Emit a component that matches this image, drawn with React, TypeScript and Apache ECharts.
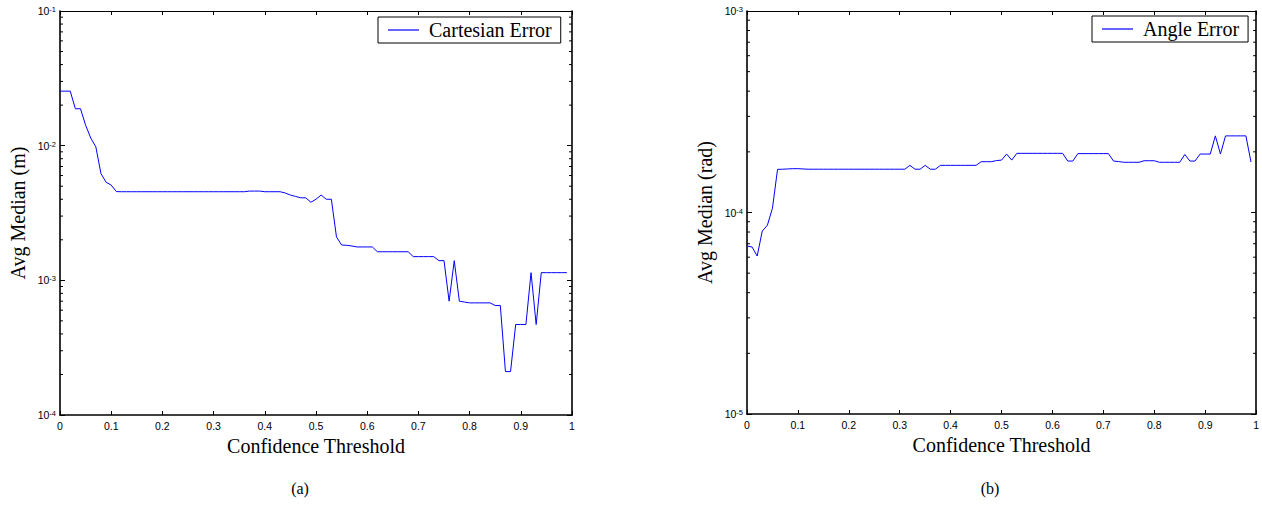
import React, { useEffect, useRef } from "react";
import * as echarts from "echarts";

const thresholds = [
  0, 0.01, 0.02, 0.03, 0.04, 0.05, 0.06, 0.07, 0.08, 0.09,
  0.1, 0.11, 0.12, 0.13, 0.14, 0.15, 0.16, 0.17, 0.18, 0.19,
  0.2, 0.21, 0.22, 0.23, 0.24, 0.25, 0.26, 0.27, 0.28, 0.29,
  0.3, 0.31, 0.32, 0.33, 0.34, 0.35, 0.36, 0.37, 0.38, 0.39,
  0.4, 0.41, 0.42, 0.43, 0.44, 0.45, 0.46, 0.47, 0.48, 0.49,
  0.5, 0.51, 0.52, 0.53, 0.54, 0.55, 0.56, 0.57, 0.58, 0.59,
  0.6, 0.61, 0.62, 0.63, 0.64, 0.65, 0.66, 0.67, 0.68, 0.69,
  0.7, 0.71, 0.72, 0.73, 0.74, 0.75, 0.76, 0.77, 0.78, 0.79,
  0.8, 0.81, 0.82, 0.83, 0.84, 0.85, 0.86, 0.87, 0.88, 0.89,
  0.9, 0.91, 0.92, 0.93, 0.94, 0.95, 0.96, 0.97, 0.98, 0.99,
];

const cartesianError = [
  0.0254, 0.0254, 0.0254, 0.0188, 0.0188, 0.0142, 0.0114, 0.0098, 0.0062, 0.00535,
  0.0051, 0.00456, 0.00455, 0.00455, 0.00455, 0.00455, 0.00455, 0.00455, 0.00455, 0.00455,
  0.00455, 0.00455, 0.00455, 0.00455, 0.00455, 0.00455, 0.00455, 0.00455, 0.00455, 0.00455,
  0.00455, 0.00455, 0.00455, 0.00455, 0.00455, 0.00455, 0.00455, 0.0046, 0.0046, 0.0046,
  0.00455, 0.00455, 0.00455, 0.00455, 0.00445, 0.0043, 0.0042, 0.0041, 0.0041, 0.0038,
  0.004, 0.0043, 0.004, 0.004, 0.0021, 0.00183, 0.00182, 0.0018, 0.00177, 0.00177,
  0.00177, 0.00177, 0.00163, 0.00163, 0.00163, 0.00163, 0.00163, 0.00163, 0.00163, 0.0015,
  0.0015, 0.0015, 0.0015, 0.0015, 0.0014, 0.0014, 0.0007, 0.0014, 0.0007, 0.00069,
  0.00068, 0.00068, 0.00068, 0.00068, 0.00068, 0.00065, 0.00065, 0.00021, 0.00021, 0.00047,
  0.00047, 0.00047, 0.00114, 0.00047, 0.00114, 0.00114, 0.00114, 0.00114, 0.00114, 0.00114,
];

const angleError = [
  6.82e-5, 6.74e-5, 6.08e-5, 8.09e-5, 8.64e-5, 1.05e-4, 1.637e-4, 1.64e-4, 1.645e-4, 1.65e-4,
  1.65e-4, 1.645e-4, 1.64e-4, 1.64e-4, 1.64e-4, 1.64e-4, 1.64e-4, 1.64e-4, 1.64e-4, 1.64e-4,
  1.64e-4, 1.64e-4, 1.64e-4, 1.64e-4, 1.64e-4, 1.64e-4, 1.64e-4, 1.64e-4, 1.64e-4, 1.64e-4,
  1.64e-4, 1.64e-4, 1.714e-4, 1.64e-4, 1.64e-4, 1.714e-4, 1.64e-4, 1.64e-4, 1.714e-4, 1.714e-4,
  1.714e-4, 1.714e-4, 1.714e-4, 1.714e-4, 1.714e-4, 1.714e-4, 1.787e-4, 1.787e-4, 1.787e-4, 1.81e-4,
  1.82e-4, 1.95e-4, 1.82e-4, 1.966e-4, 1.966e-4, 1.966e-4, 1.966e-4, 1.966e-4, 1.966e-4, 1.966e-4,
  1.966e-4, 1.966e-4, 1.966e-4, 1.8e-4, 1.8e-4, 1.96e-4, 1.96e-4, 1.96e-4, 1.96e-4, 1.96e-4,
  1.96e-4, 1.96e-4, 1.8e-4, 1.79e-4, 1.775e-4, 1.775e-4, 1.775e-4, 1.775e-4, 1.807e-4, 1.807e-4,
  1.807e-4, 1.775e-4, 1.775e-4, 1.775e-4, 1.775e-4, 1.775e-4, 1.94e-4, 1.8e-4, 1.8e-4, 1.95e-4,
  1.95e-4, 1.95e-4, 2.4e-4, 1.95e-4, 2.4e-4, 2.4e-4, 2.4e-4, 2.4e-4, 2.4e-4, 1.78e-4,
];

const leftDecades = [1e-4, 1e-3, 1e-2];
const rightDecades = [1e-5, 1e-4];
const minorMultiples = [2, 3, 4, 5, 6, 7, 8, 9];

const SERIF = "Liberation Serif";
const SANS = "Liberation Sans";

function minorData(decades: number[]) {
  const out: number[][] = [];
  decades.forEach((d) => {
    minorMultiples.forEach((m) => {
      out.push([0, d * m]);
      out.push([1, d * m]);
    });
  });
  return out;
}

function minorTickSeries(xIdx: number, yIdx: number, decades: number[]) {
  return {
    type: "custom",
    xAxisIndex: xIdx,
    yAxisIndex: yIdx,
    silent: true,
    clip: false,
    data: minorData(decades),
    renderItem: (params: any, api: any) => {
      const side = api.value(0);
      const p = api.coord([side, api.value(1)]);
      const dx = side === 0 ? 3 : -3;
      return {
        type: "line",
        shape: { x1: p[0], y1: p[1], x2: p[0] + dx, y2: p[1] },
        style: { stroke: "#000", lineWidth: 1 },
      };
    },
  };
}

const yLabelRich = {
  b: { fontSize: 10.5, fontFamily: SANS, color: "#000", lineHeight: 11, verticalAlign: "bottom" },
  e: { fontSize: 7.5, fontFamily: SANS, color: "#000", lineHeight: 8, verticalAlign: "top" },
};

function xAxes(gridIndex: number) {
  return [
    {
      type: "value",
      gridIndex,
      position: "bottom",
      min: 0,
      max: 1,
      interval: 0.1,
      axisLine: { show: true, onZero: false, lineStyle: { color: "#000", width: 1.6 } },
      axisTick: { show: true, inside: true, length: 4, lineStyle: { color: "#000" } },
      axisLabel: { fontSize: 10.5, fontFamily: SANS, color: "#000", margin: 5 },
      splitLine: { show: false },
      name: "Confidence Threshold",
      nameLocation: "middle",
      nameGap: 12,
      nameTextStyle: { fontFamily: SERIF, fontSize: 20, color: "#000" },
    },
    {
      type: "value",
      gridIndex,
      position: "top",
      min: 0,
      max: 1,
      interval: 0.1,
      axisLine: { show: true, onZero: false, lineStyle: { color: "#000", width: 1 } },
      axisTick: { show: true, inside: true, length: 4, lineStyle: { color: "#000" } },
      axisLabel: { show: false },
      splitLine: { show: false },
    },
  ];
}

function yAxes(gridIndex: number, min: number, max: number, name: string) {
  return [
    {
      type: "log",
      logBase: 10,
      gridIndex,
      position: "left",
      min,
      max,
      axisLine: { show: true, onZero: false, lineStyle: { color: "#000", width: 1.6 } },
      axisTick: { show: true, inside: true, length: 5, lineStyle: { color: "#000" } },
      axisLabel: {
        margin: 4,
        formatter: (v: number) => `{b|10}{e|${Math.round(Math.log10(v))}}`,
        rich: yLabelRich,
      },
      splitLine: { show: false },
      minorTick: { show: false },
      name,
      nameLocation: "middle",
      nameGap: 32,
      nameTextStyle: { fontFamily: SERIF, fontSize: 20, color: "#000" },
    },
    {
      type: "log",
      logBase: 10,
      gridIndex,
      position: "right",
      min,
      max,
      axisLine: { show: true, onZero: false, lineStyle: { color: "#000", width: 1.6 } },
      axisTick: { show: true, inside: true, length: 5, lineStyle: { color: "#000" } },
      axisLabel: { show: false },
      splitLine: { show: false },
    },
  ];
}

function legendFor(name: string, left: number, top: number) {
  return {
    data: [name],
    left,
    top,
    orient: "horizontal",
    selectedMode: false,
    backgroundColor: "#fff",
    borderColor: "#000",
    borderWidth: 1,
    borderRadius: 0,
    padding: [3, 9, 3, 10],
    icon: "rect",
    itemWidth: 31,
    itemHeight: 1.2,
    itemStyle: { color: "#0000ff" },
    textStyle: { fontFamily: SERIF, fontSize: 20, color: "#000", padding: [0, 0, 0, 5] },
  };
}

export default function App() {
  const ref = useRef<HTMLDivElement>(null);

  useEffect(() => {
    if (!ref.current) return;
    const chart = echarts.init(ref.current, null, { renderer: "svg" });
    const option: any = {
      animation: false,
      backgroundColor: "#fff",
      grid: [
        { left: 60, top: 11, width: 512, height: 404, containLabel: false },
        { left: 747, top: 11, width: 511, height: 403, containLabel: false },
      ],
      xAxis: [...xAxes(0), ...xAxes(1)],
      yAxis: [
        ...yAxes(0, 1e-4, 1e-1, "Avg Median (m)"),
        ...yAxes(1, 1e-5, 1e-3, "Avg Median (rad)"),
      ],
      legend: [legendFor("Cartesian Error", 378, 17), legendFor("Angle Error", 1092, 16)],
      series: [
        {
          name: "Cartesian Error",
          type: "line",
          xAxisIndex: 0,
          yAxisIndex: 0,
          symbol: "none",
          showSymbol: false,
          lineStyle: { color: "#0000ff", width: 1 },
          itemStyle: { color: "#0000ff" },
          data: thresholds.map((x, i) => [x, cartesianError[i]]),
        },
        {
          name: "Angle Error",
          type: "line",
          xAxisIndex: 2,
          yAxisIndex: 2,
          symbol: "none",
          showSymbol: false,
          lineStyle: { color: "#0000ff", width: 1 },
          itemStyle: { color: "#0000ff" },
          data: thresholds.map((x, i) => [x, angleError[i]]),
        },
        minorTickSeries(0, 0, leftDecades),
        minorTickSeries(2, 2, rightDecades),
      ],
      graphic: [
        {
          type: "text",
          x: 300,
          y: 488,
          style: { text: "(a)", font: `16px "${SERIF}"`, fill: "#000", textAlign: "center", textVerticalAlign: "middle" },
        },
        {
          type: "text",
          x: 990,
          y: 488,
          style: { text: "(b)", font: `16px "${SERIF}"`, fill: "#000", textAlign: "center", textVerticalAlign: "middle" },
        },
      ],
    };
    chart.setOption(option);
    return () => chart.dispose();
  }, []);

  return (
    <div
      ref={ref}
      style={{ position: "fixed", left: 0, top: 0, width: 1262, height: 527, background: "#fff" }}
    />
  );
}
